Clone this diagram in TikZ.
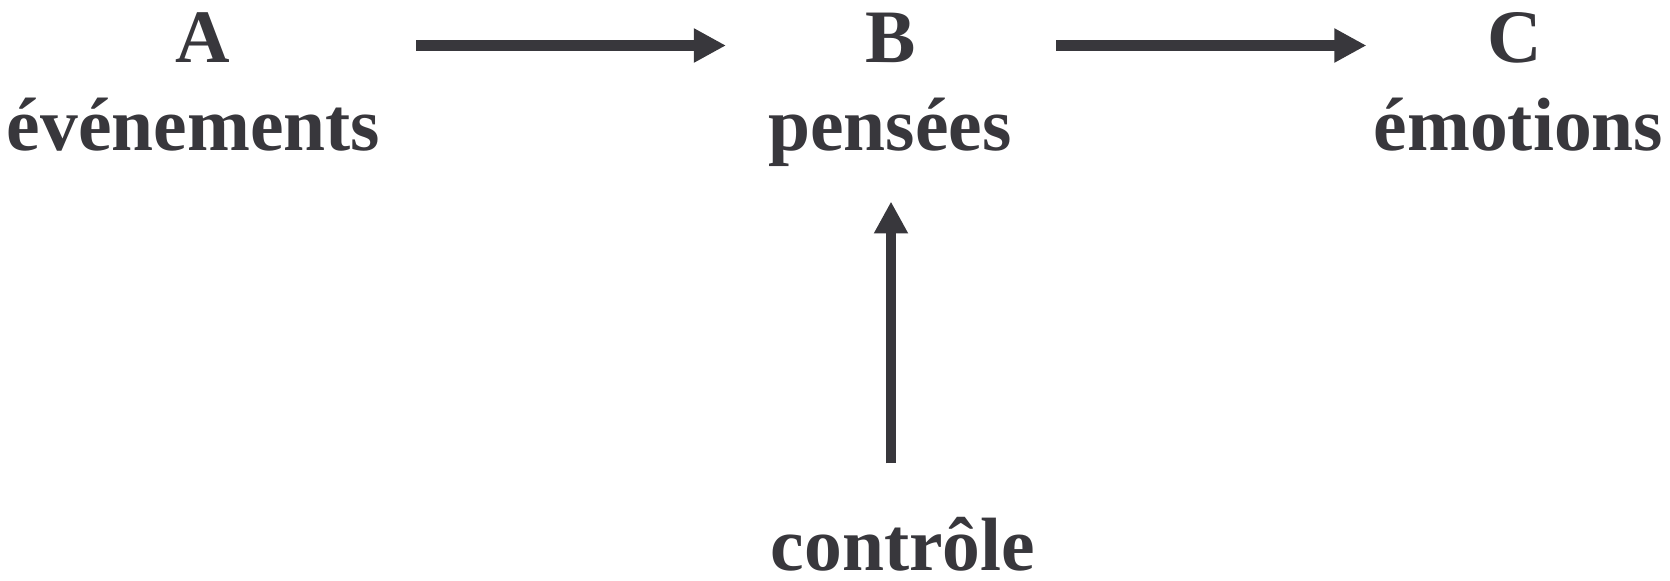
\documentclass[tikz,border=0pt]{standalone}
\usepackage{fontspec}
\setmainfont{Liberation Serif}
\usetikzlibrary{arrows.meta}
\definecolor{ink}{RGB}{56,55,60}
\begin{document}
\begin{tikzpicture}[x=0.5pt,y=0.5pt,>={Triangle[length=16pt,width=16pt]},
    lbl/.style={inner sep=0pt,anchor=base,text=ink,font=\fontsize{37.75}{45}\selectfont\bfseries},
    arr/.style={ink,line width=5.25pt,->}]
  \useasboundingbox (0,0) rectangle (1670,580);
  \node[lbl] (A) at (203,517) {A};
  \node[lbl] (evt) at (193.5,430) {événements};
  \node[lbl] (B) at (891,517) {B};
  \node[lbl] (pens) at (890,430) {pensées};
  \node[lbl] (C) at (1515,517) {C};
  \node[lbl] (emo) at (1518.5,430) {émotions};
  \node[lbl] (ctl) at (903,10) {contrôle};
  % arrow level, a bit above the letters' baseline
  \coordinate (lvlA) at ([yshift=8.75pt]A.base);
  \coordinate (lvlB) at ([yshift=8.75pt]B.base);
  \draw[arr,shorten <=18pt,shorten >=21pt] (evt.east |- lvlA) -- (pens.west |- lvlB);
  \draw[arr,shorten <=22pt,shorten >=3.5pt] (pens.east |- lvlB) -- (emo.west |- lvlB);
  \draw[arr,shorten <=26.5pt,shorten >=17.5pt] (ctl.north -| B) -- (pens.south -| B);
\end{tikzpicture}
\end{document}
